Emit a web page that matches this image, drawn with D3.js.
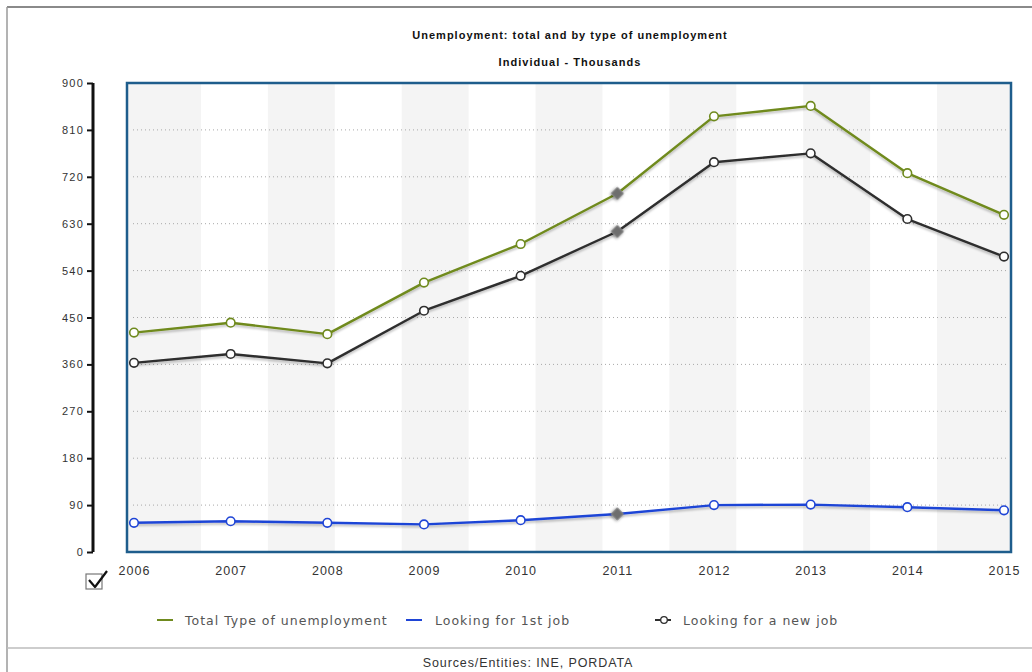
<!DOCTYPE html>
<html>
<head>
<meta charset="utf-8">
<script src="https://cdn.jsdelivr.net/npm/d3@7"></script>
<style>
  html, body { margin: 0; padding: 0; background: #fff; }
  svg { display: block; }
</style>
</head>
<body>
<svg id="chart" width="1032" height="672"></svg>
<script>
// Unemployment in Portugal, thousands of individuals
const years = ["2006", "2007", "2008", "2009", "2010", "2011", "2012", "2013", "2014", "2015"];
const totalUnemployment = [421, 440, 418, 517, 591, 688, 836, 856, 727, 647];
const firstJob = [56, 59, 56, 53, 61, 73, 90, 91, 86, 80];
const newJob = [363, 380, 362, 463, 530, 615, 748, 765, 639, 567];
const yTicks = [0, 90, 180, 270, 360, 450, 540, 630, 720, 810, 900];
const highlightedYear = "2011";

const seriesNames = ["Total Type of unemployment", "Looking for 1st job", "Looking for a new job"];
const seriesColors = ["#6f8a1e", "#1f45d6", "#2e2e2e"];

const series = [
  { name: seriesNames[0], color: seriesColors[0], values: totalUnemployment },
  { name: seriesNames[1], color: seriesColors[1], values: firstJob },
  { name: seriesNames[2], color: seriesColors[2], values: newJob }
];

const svg = d3.select("#chart");
const W = 1032, H = 672;
const plot = { left: 127, right: 1011, top: 83, bottom: 552 };

const x = d3.scalePoint().domain(years).range([134, 1004]);
const y = d3.scaleLinear().domain([0, 900]).range([plot.bottom, plot.top]);

const defs = svg.append("defs");
const shadow = defs.append("filter").attr("id", "lineShadow")
  .attr("x", "-5%").attr("y", "-20%").attr("width", "110%").attr("height", "140%");
shadow.append("feDropShadow").attr("dx", 0).attr("dy", 2).attr("stdDeviation", 1.2)
  .attr("flood-color", "#000").attr("flood-opacity", 0.25);
const soft = defs.append("filter").attr("id", "markerShadow")
  .attr("x", "-60%").attr("y", "-60%").attr("width", "220%").attr("height", "220%");
soft.append("feGaussianBlur").attr("in", "SourceAlpha").attr("stdDeviation", 1.5).attr("result", "b");
soft.append("feOffset").attr("in", "b").attr("dy", 1).attr("result", "o");
soft.append("feComponentTransfer").attr("in", "o").attr("result", "s")
  .append("feFuncA").attr("type", "linear").attr("slope", 0.45);
const m = soft.append("feMerge");
m.append("feMergeNode").attr("in", "s");
m.append("feMergeNode").attr("in", "SourceGraphic");

// Page frame
svg.append("line").attr("x1", 7).attr("x2", W).attr("y1", 7).attr("y2", 7)
  .attr("stroke", "#8a8a8a").attr("stroke-width", 2);
svg.append("line").attr("x1", 7).attr("x2", 7).attr("y1", 7).attr("y2", H)
  .attr("stroke", "#9a9a9a").attr("stroke-width", 1.5);
svg.append("line").attr("x1", 7).attr("x2", W).attr("y1", 648).attr("y2", 648)
  .attr("stroke", "#bdbdbd").attr("stroke-width", 1.5);

// Titles
svg.append("text").attr("x", 570).attr("y", 39).attr("text-anchor", "middle")
  .attr("font-family", "Liberation Sans, Arial, sans-serif").attr("font-weight", "bold")
  .attr("font-size", 11).attr("letter-spacing", 1.0).attr("fill", "#111")
  .text("Unemployment: total and by type of unemployment");
svg.append("text").attr("x", 570).attr("y", 66).attr("text-anchor", "middle")
  .attr("font-family", "Liberation Sans, Arial, sans-serif").attr("font-weight", "bold")
  .attr("font-size", 11).attr("letter-spacing", 1.05).attr("fill", "#111")
  .text("Individual - Thousands");

// Alternating background stripes
const x0 = x(years[0]), x1 = x(years[years.length - 1]);
const stripeW = (x1 - x0) / 13;
const stripes = d3.range(0, 13, 2).map(i => {
  let a = x0 + i * stripeW, b = x0 + (i + 1) * stripeW;
  if (i === 0) a = plot.left;
  if (i === 12) b = plot.right;
  return [a, b];
});
svg.append("g").selectAll("rect").data(stripes).join("rect")
  .attr("x", d => d[0]).attr("width", d => d[1] - d[0])
  .attr("y", plot.top).attr("height", plot.bottom - plot.top)
  .attr("fill", "#f4f4f4");

// Dotted gridlines
svg.append("g").selectAll("line").data(yTicks.filter(t => t > 0 && t < 900)).join("line")
  .attr("x1", 133).attr("x2", 1007)
  .attr("y1", d => y(d)).attr("y2", d => y(d))
  .attr("stroke", "#a8a8a8").attr("stroke-width", 1).attr("stroke-dasharray", "1,3");

// Plot border
svg.append("rect").attr("x", plot.left).attr("y", plot.top)
  .attr("width", plot.right - plot.left).attr("height", plot.bottom - plot.top)
  .attr("fill", "none").attr("stroke", "#1e5d8c").attr("stroke-width", 2.5);

// Y axis (detached on the left)
const yAxis = svg.append("g").attr("transform", "translate(93,0)")
  .call(d3.axisLeft(y).tickValues(yTicks).tickSize(6).tickPadding(3).tickFormat(d3.format("d")));
yAxis.select(".domain").attr("stroke", "#111").attr("stroke-width", 3).attr("d", `M0,${y(900)}V${y(0)}`);
yAxis.selectAll(".tick line").attr("stroke", "#111").attr("stroke-width", 2);
yAxis.selectAll(".tick text").attr("font-family", "Liberation Sans, Arial, sans-serif")
  .attr("font-size", 11).attr("letter-spacing", 1.2).attr("fill", "#333");

// X axis labels
const xAxis = svg.append("g").attr("transform", `translate(0,${plot.bottom})`)
  .call(d3.axisBottom(x).tickSize(0).tickPadding(14));
xAxis.select(".domain").remove();
xAxis.selectAll(".tick text").attr("font-family", "Liberation Sans, Arial, sans-serif")
  .attr("font-size", 12.5).attr("letter-spacing", 1.0).attr("fill", "#333");

// Lines
const line = d3.line().x((d, i) => x(years[i])).y(d => y(d));
const gLines = svg.append("g");
series.forEach(s => {
  gLines.append("path").datum(s.values)
    .attr("d", line).attr("fill", "none")
    .attr("stroke", s.color).attr("stroke-width", 2.4)
    .attr("stroke-linejoin", "round").attr("filter", "url(#lineShadow)");
});

// Markers
series.forEach(s => {
  const pts = s.values.map((v, i) => ({ year: years[i], v }));
  svg.append("g").selectAll("circle").data(pts.filter(p => p.year !== highlightedYear)).join("circle")
    .attr("cx", d => x(d.year)).attr("cy", d => y(d.v)).attr("r", 4.3)
    .attr("fill", "#fff").attr("stroke", s.color).attr("stroke-width", 1.6);
  svg.append("g").selectAll("path").data(pts.filter(p => p.year === highlightedYear)).join("path")
    .attr("d", d3.symbol(d3.symbolSquare, 72))
    .attr("transform", d => `translate(${x(d.year)},${y(d.v)}) rotate(45)`)
    .attr("fill", "#6e6e6e").attr("stroke", "#8a8a8a").attr("stroke-width", 1)
    .attr("filter", "url(#markerShadow)");
});

// Checkbox
const cb = svg.append("g");
cb.append("rect").attr("x", 86).attr("y", 574).attr("width", 16).attr("height", 15)
  .attr("fill", "#fff").attr("stroke", "#777").attr("stroke-width", 1.2);
cb.append("path").attr("d", "M89,580 L95,587 L107,571").attr("fill", "none")
  .attr("stroke", "#111").attr("stroke-width", 2.2).attr("stroke-linejoin", "round");

// Legend
const legendItems = [
  { name: seriesNames[0], color: seriesColors[0], sx: 157, tx: 185, marker: false },
  { name: seriesNames[1], color: seriesColors[1], sx: 406, tx: 435, marker: false },
  { name: seriesNames[2], color: seriesColors[2], sx: 655, tx: 683, marker: true }
];
const lg = svg.append("g");
legendItems.forEach(it => {
  lg.append("line").attr("x1", it.sx).attr("x2", it.sx + 16).attr("y1", 620).attr("y2", 620)
    .attr("stroke", it.color).attr("stroke-width", 2);
  if (it.marker) {
    lg.append("circle").attr("cx", it.sx + 9).attr("cy", 620).attr("r", 3.3)
      .attr("fill", "#fff").attr("stroke", it.color).attr("stroke-width", 1.3);
  }
  lg.append("text").attr("x", it.tx).attr("y", 624.5)
    .attr("font-family", "DejaVu Sans, Verdana, sans-serif").attr("font-size", 12.5)
    .attr("letter-spacing", 1.0).attr("fill", "#555").text(it.name);
});

// Source
svg.append("text").attr("x", 528).attr("y", 667).attr("text-anchor", "middle")
  .attr("font-family", "Liberation Sans, Arial, sans-serif").attr("font-size", 12.5)
  .attr("letter-spacing", 0.9).attr("fill", "#333").text("Sources/Entities: INE, PORDATA");
</script>
</body>
</html>
